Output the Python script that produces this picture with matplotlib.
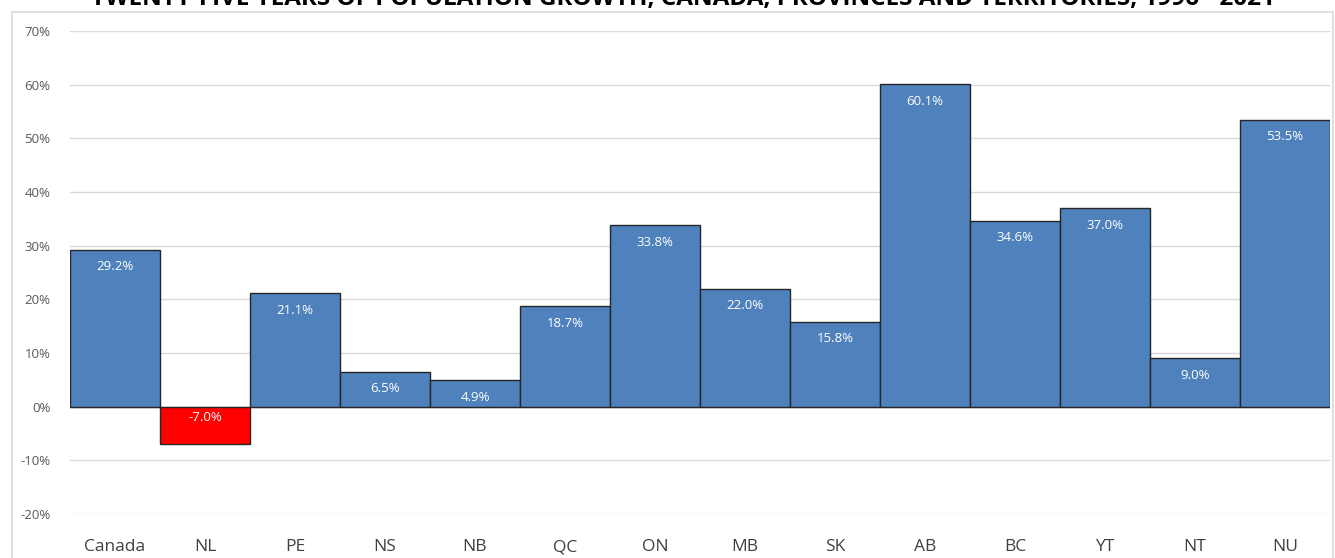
import matplotlib.pyplot as plt
import matplotlib.patches as mpatches
from matplotlib.ticker import FuncFormatter

plt.rcParams['font.family'] = ['Open Sans', 'DejaVu Sans']

regions = ['Canada', 'NL', 'PE', 'NS', 'NB', 'QC', 'ON', 'MB', 'SK', 'AB', 'BC', 'YT', 'NT', 'NU']
growth = [29.2, -7.0, 21.1, 6.5, 4.9, 18.7, 33.8, 22.0, 15.8, 60.1, 34.6, 37.0, 9.0, 53.5]
title = 'TWENTY-FIVE YEARS OF POPULATION GROWTH, CANADA, PROVINCES AND TERRITORIES, 1996 - 2021'

W, H = 1335, 558
fig = plt.figure(figsize=(W / 100, H / 100), dpi=100)
ax = fig.add_axes([70 / W, 44 / H, 1260 / W, 483 / H])

# chart frame
fig.patches.append(mpatches.Rectangle((12 / W, -0.1), 1321 / W, (H - 12) / H + 0.1,
                                      transform=fig.transFigure, fill=False,
                                      edgecolor='#d9d9d9', linewidth=1.2))

colors = ['#ff0000' if v < 0 else '#4f81bd' for v in growth]
x = range(len(regions))
ax.bar(x, growth, width=1.0, color=colors, edgecolor='#262626', linewidth=1.0, zorder=3)

for i, v in enumerate(growth):
    if v >= 0:
        ax.annotate(f'{v:.1f}%', (i, v), xytext=(0, -17), textcoords='offset pixels',
                    ha='center', va='center', color='white', fontsize=9.5, zorder=4)
    else:
        ax.annotate(f'{v:.1f}%', (i, 0), xytext=(0, -11), textcoords='offset pixels',
                    ha='center', va='center', color='white', fontsize=9.5, zorder=4)

ax.set_xlim(-0.5, len(regions) - 0.5)
ax.set_ylim(-20, 70)
ax.set_yticks(range(-20, 71, 10))
ax.yaxis.set_major_formatter(FuncFormatter(lambda v, p: f'{v:.0f}%'))
ax.grid(axis='y', color='#d9d9d9', linewidth=1.0, zorder=0)
ax.axhline(0, color='#bfbfbf', linewidth=1.0, zorder=2)
ax.set_xticks(list(x))
ax.set_xticklabels(regions, fontsize=12.5, color='#404040')
ax.tick_params(axis='x', length=0, pad=18)
ax.tick_params(axis='y', length=0, pad=14, labelsize=9.5, labelcolor='#595959')
for s in ax.spines.values():
    s.set_visible(False)

fig.text(683 / W, (H + 1) / H, title, ha='center', va='center', fontsize=17.5,
         fontweight='bold', color='black')

fig.savefig('out.png', dpi=100)
